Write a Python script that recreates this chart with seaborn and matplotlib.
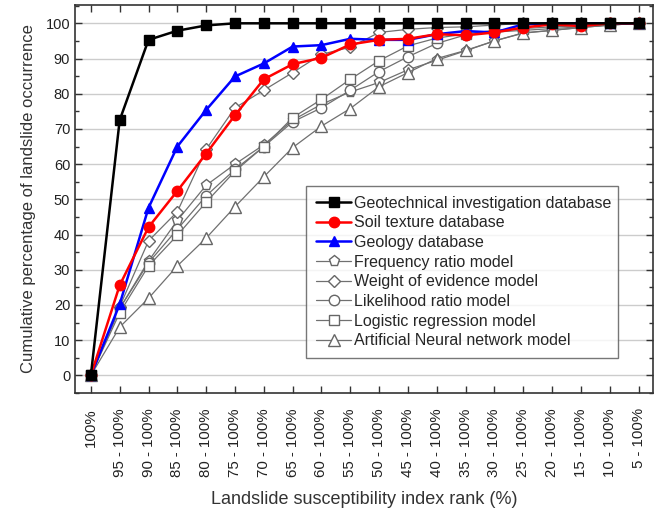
import matplotlib
matplotlib.use("Agg")
import matplotlib.pyplot as plt
from matplotlib.ticker import MultipleLocator
import seaborn as sns
import numpy as np

categories = ["100%"] + [f"{p} - 100%" for p in range(95, 0, -5)]

geotechnical = [0, 72.5, 95.3, 97.9, 99.4, 100, 100, 100, 100, 100, 100, 100, 100, 100, 100, 100, 100, 100, 100, 100]
soil_texture = [0, 25.6, 42.1, 52.4, 63.0, 73.9, 84.1, 88.4, 90.2, 94.0, 95.3, 95.6, 96.9, 96.6, 97.4, 98.8, 99.7, 99.2, 100, 100]
geology = [0, 20.2, 47.6, 65.0, 75.4, 84.9, 88.6, 93.4, 93.8, 95.6, 95.3, 95.3, 96.9, 97.8, 97.4, 99.7, 100, 100, 100, 100]
frequency_ratio = [0, 19, 32.5, 44, 54, 60, 65.5, 72.5, 77, 80.5, 83.2, 86.8, 89.5, 92.2, 95, 97.3, 98, 98.8, 99.5, 100]
weight_of_evidence = [0, 19.5, 38.2, 46.5, 64.2, 76.0, 81.0, 86.0, 91.2, 93.2, 97.4, 98.3, 98.8, 99, 99.5, 100, 100, 100, 100, 100]
likelihood_ratio = [0, 19, 32, 41.5, 51, 58.5, 65, 72, 76, 81, 86.3, 90.5, 94.3, 96.7, 97.5, 98, 98.5, 99, 99.5, 100]
logistic_regression = [0, 17.8, 31.1, 39.8, 49.2, 58, 65, 73.2, 78.4, 84.1, 89.4, 93.6, 95.8, 97, 98, 98.5, 99, 99.3, 100, 100]
ann_model = [0, 13.7, 21.9, 31.1, 39, 47.9, 56.4, 64.7, 70.8, 75.8, 82, 86, 90, 92.3, 95, 97.2, 98, 98.8, 99.5, 100]

series_names = [
    "Geotechnical investigation database",
    "Soil texture database",
    "Geology database",
    "Frequency ratio model",
    "Weight of evidence model",
    "Likelihood ratio model",
    "Logistic regression model",
    "Artificial Neural network model",
]
series_values = [geotechnical, soil_texture, geology, frequency_ratio,
                 weight_of_evidence, likelihood_ratio, logistic_regression, ann_model]

sns.set_theme(style="white")
plt.rcParams["font.family"] = ["Liberation Sans", "DejaVu Sans"]

fig = plt.figure(figsize=(6.59, 5.14), dpi=100)
ax = fig.add_axes([75 / 659, 1 - 393 / 514, 578 / 659, 388 / 514])

x = np.arange(len(categories))
styles = [
    dict(color="black", marker="s", mfc="black", mec="black", ms=6.5, lw=1.8),
    dict(color="#ff0000", marker="o", mfc="#ff0000", mec="#ff0000", ms=7.5, lw=1.8),
    dict(color="#0000ff", marker="^", mfc="#0000ff", mec="#0000ff", ms=7.5, lw=1.8),
    dict(color="#707070", marker="p", mfc="white", mec="#666666", ms=8, lw=0.9),
    dict(color="#707070", marker="D", mfc="white", mec="#666666", ms=6.5, lw=0.9),
    dict(color="#707070", marker="o", mfc="white", mec="#666666", ms=7.5, lw=0.9),
    dict(color="#707070", marker="s", mfc="white", mec="#666666", ms=7, lw=0.9),
    dict(color="#707070", marker="^", mfc="white", mec="#666666", ms=8, lw=0.9),
]
zorders = [10, 9, 8, 5, 5, 5, 5, 5]
order = [3, 4, 5, 6, 7, 2, 1, 0]
for k in order:
    st = styles[k]
    sns.lineplot(x=x, y=series_values[k], ax=ax, label=series_names[k],
                 color=st["color"], marker=st["marker"], markerfacecolor=st["mfc"],
                 markeredgecolor=st["mec"], markersize=st["ms"], linewidth=st["lw"],
                 markeredgewidth=1.0, zorder=zorders[k])

ax.set_xlim(-0.55, 19.5)
ax.set_ylim(-5, 105.2)
ax.set_xticks(x)
ax.set_xticklabels(categories, rotation=90, ha="center", va="top", fontsize=10.8, color="#222222")
ax.yaxis.set_major_locator(MultipleLocator(10))
ax.yaxis.set_minor_locator(MultipleLocator(5))
ax.tick_params(axis="y", labelsize=10.5, labelcolor="#222222")
ax.tick_params(which="both", direction="in", top=True, right=True, bottom=True, left=True,
               color="#333333")
ax.tick_params(which="major", length=5, width=1)
ax.tick_params(which="minor", length=3, width=1)
ax.tick_params(axis="x", pad=11)

ax.yaxis.grid(True, color="#cccccc", linewidth=1.0)
ax.set_axisbelow(True)
for sp in ax.spines.values():
    sp.set_color("#333333")
    sp.set_linewidth(1.2)

ax.set_xlabel("Landslide susceptibility index rank (%)", fontsize=13, color="#333333", labelpad=10)
ax.set_ylabel("Cumulative percentage of landslide occurrence", fontsize=12, color="#333333", labelpad=7)

handles, labels = ax.get_legend_handles_labels()
hmap = dict(zip(labels, handles))
leg = ax.legend([hmap[n] for n in series_names], series_names,
                loc="upper left", bbox_to_anchor=(0.40, 0.082, 0.539, 0.452), mode="expand",
                fontsize=11.5, frameon=True, fancybox=False, edgecolor="#555555",
                handlelength=2.2, labelspacing=0.29, borderpad=0.62, handletextpad=0.2,
                borderaxespad=0.0)
leg.get_frame().set_linewidth(1.0)
leg.set_zorder(20)

fig.savefig("out.png", dpi=100)
